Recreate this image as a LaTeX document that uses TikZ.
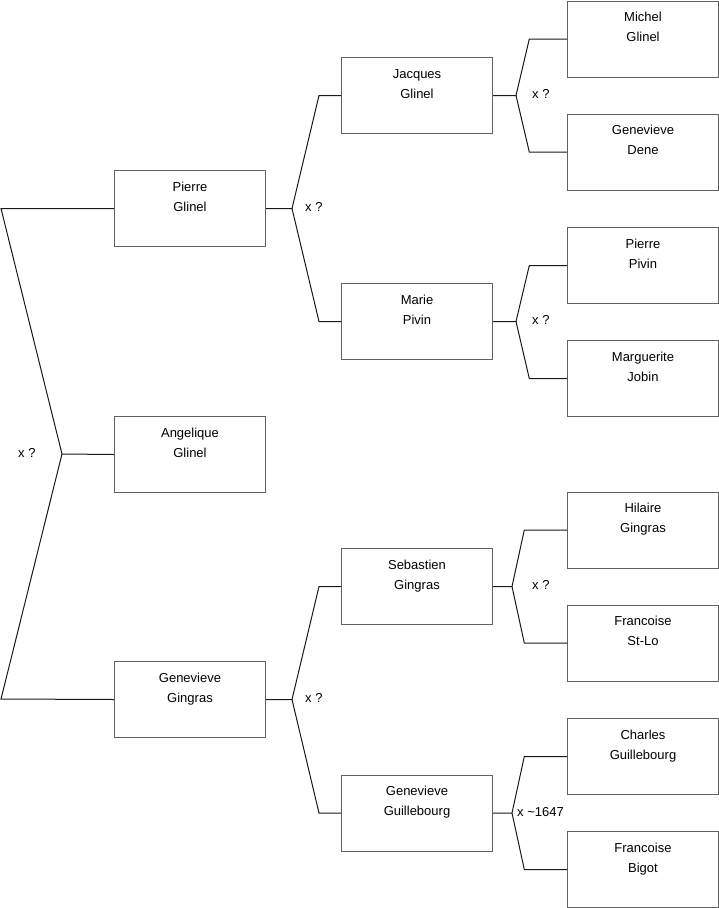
\documentclass[tikz,border=0pt]{standalone}
\usepackage{fontspec}
\setmainfont{Liberation Sans}
\tikzset{
  pbox/.style={draw=black!62, line width=1pt, minimum width=151pt, minimum height=76pt, inner sep=0pt, anchor=north west},
  nm/.style={font=\fontsize{13}{15}\selectfont, anchor=base, inner sep=0pt},
  conn/.style={draw=black!90, line width=1pt},
  mar/.style={font=\fontsize{13}{15}\selectfont, anchor=base west, inner sep=0pt}
}
\newcommand\person[5]{%
  \node[pbox] (#1) at (#2,#3) {};
  \node[nm] (#1-a) at ([yshift=-21.3pt]#1.north) {#4};
  \node[nm] (#1-b) at ([yshift=-41.3pt]#1.north) {#5};
}
\newcommand\couple[7]{% child, father, mother, split dx, branch dx, label dx, label
  \coordinate (#1-k) at ([xshift=#4pt]#1.east);
  \draw[conn] (#1.east) -- (#1-k) -- ([xshift=-#5pt]#2.west) -- (#2.west);
  \draw[conn] (#1-k) -- ([xshift=-#5pt]#3.west) -- (#3.west);
  \node[mar] (#1-m) at ([xshift=#6pt, yshift=-3pt]#1-k) {#7};
}
\begin{document}
\begin{tikzpicture}[x=1pt, y=-1pt]
\useasboundingbox (0,0) rectangle (719,908);
% level 1
\person{pg}{114}{170}{Pierre}{Glinel}
\person{ag}{114}{416}{Angelique}{Glinel}
\person{gg}{114}{661}{Genevieve}{Gingras}
% level 2
\person{jg}{341}{57}{Jacques}{Glinel}
\person{mp}{341}{283}{Marie}{Pivin}
\person{sg}{341}{548}{Sebastien}{Gingras}
\person{gu}{341}{774.5}{Genevieve}{Guillebourg}
% level 3
\person{mg}{567}{0.5}{Michel}{Glinel}
\person{gd}{567}{113.5}{Genevieve}{Dene}
\person{pp}{567}{227}{Pierre}{Pivin}
\person{mj}{567}{340}{Marguerite}{Jobin}
\person{hg}{567}{491.5}{Hilaire}{Gingras}
\person{fs}{567}{604.5}{Francoise}{St-Lo}
\person{cg}{567}{718}{Charles}{Guillebourg}
\person{fb}{567}{831}{Francoise}{Bigot}
% left bracket
\coordinate (k0) at (62,454);
\draw[conn] (pg.west) -- ++(-113,0) -- (k0) -- (ag.west);
\draw[conn] (k0) -- ++(-61,245) -- (gg.west);
\node[mar] (k0-m) at (18,457.4) {x ?};
% couples
\couple{pg}{jg}{mp}{26}{22}{13}{x ?}
\couple{gg}{sg}{gu}{26}{22}{13}{x ?}
\couple{jg}{mg}{gd}{23}{37.7}{16}{x ?}
\couple{mp}{pp}{mj}{23}{37.7}{16}{x ?}
\couple{sg}{hg}{fs}{19}{42.7}{20}{x ?}
\couple{gu}{cg}{fb}{19}{42.7}{5}{x \textasciitilde1647}
\end{tikzpicture}
\end{document}
